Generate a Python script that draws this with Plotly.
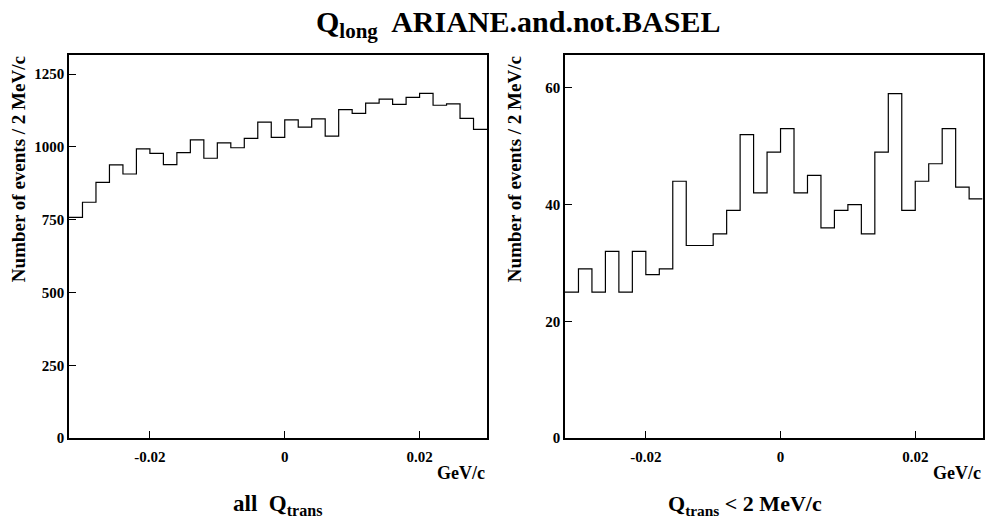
import plotly.graph_objects as go

# ---- data ----
bin_start = -0.032
bin_width = 0.002
counts_all = [758, 810, 878, 938, 907, 993, 978, 939, 980, 1024, 961, 1014, 997, 1029, 1085,
              1033, 1093, 1068, 1096, 1037, 1128, 1115, 1150, 1164, 1146, 1170, 1184, 1143,
              1148, 1098, 1060]
counts_cut = [25, 29, 25, 32, 25, 32, 28, 29, 44, 33, 33, 35, 39, 52, 42, 49, 53, 42, 45, 36,
              39, 40, 35, 49, 59, 39, 44, 47, 53, 43, 41]
x_tick_vals = [-0.02, 0, 0.02]
x_tick_text = ["-0.02", "0", "0.02"]
y_ticks_all = [0, 250, 500, 750, 1000, 1250]
y_ticks_cut = [0, 20, 40, 60]

FONT = "Liberation Serif, Times New Roman, serif"
W, H = 987, 522


def step_xy(counts):
    edges = [bin_start + i * bin_width for i in range(len(counts) + 1)]
    ys = list(counts) + [counts[-1]]
    return edges, ys


fig = go.Figure()
for i, counts in enumerate([counts_all, counts_cut]):
    xs, ys = step_xy(counts)
    fig.add_trace(go.Scatter(x=xs, y=ys, mode="lines", line=dict(shape="hv", color="black", width=1.2),
                             xaxis="x" if i == 0 else "x2", yaxis="y" if i == 0 else "y2",
                             showlegend=False, hoverinfo="skip"))

x_range = [bin_start, bin_start + bin_width * len(counts_all)]
ydom = [1 - 445 / H, 1 - 56 / H]

axis_common = dict(showgrid=False, zeroline=False, showline=True, linecolor="black", linewidth=1.5,
                   mirror=True, ticks="inside", ticklen=7, tickwidth=1, tickcolor="black",
                   tickfont=dict(family=FONT, size=15, color="black", weight="bold"))

fig.update_layout(
    width=W, height=H, margin=dict(l=0, r=0, t=0, b=0),
    paper_bgcolor="white", plot_bgcolor="white",
    font=dict(family=FONT, color="black"),
    xaxis=dict(domain=[69 / W, 487 / W], range=x_range, tickvals=x_tick_vals, ticktext=x_tick_text,
               anchor="y", ticklabelstandoff=4, **axis_common),
    yaxis=dict(domain=ydom, range=[0, 1315], tickvals=y_ticks_all, anchor="x", **axis_common),
    xaxis2=dict(domain=[565 / W, 982.6 / W], range=x_range, tickvals=x_tick_vals, ticktext=x_tick_text,
                anchor="y2", ticklabelstandoff=4, **axis_common),
    yaxis2=dict(domain=ydom, range=[0, 65.6], tickvals=y_ticks_cut, anchor="x2", **axis_common),
)

ann_font = dict(family=FONT, color="black", weight="bold")
annotations = [
    dict(text="Q<sub>long</sub>  ARIANE.and.not.BASEL", x=518 / W, y=1 - 24 / H,
         xanchor="center", yanchor="middle", font=dict(size=30, **ann_font)),
    dict(text="Number of events / 2 MeV/c", textangle=-90, x=18 / W, y=1 - 55 / H,
         xanchor="center", yanchor="top", font=dict(size=19, **ann_font)),
    dict(text="Number of events / 2 MeV/c", textangle=-90, x=514 / W, y=1 - 55 / H,
         xanchor="center", yanchor="top", font=dict(size=19, **ann_font)),
    dict(text="GeV/c", x=487 / W, y=1 - 480 / H, xanchor="right", yanchor="middle",
         font=dict(size=18, **ann_font)),
    dict(text="GeV/c", x=982.6 / W, y=1 - 480 / H, xanchor="right", yanchor="middle",
         font=dict(size=18, **ann_font)),
    dict(text="all  Q<sub>trans</sub>", x=277 / W, y=1 - 513 / H, xanchor="center",
         yanchor="middle", font=dict(size=23, **ann_font)),
    dict(text="Q<sub>trans</sub> < 2 MeV/c", x=745 / W, y=1 - 513 / H, xanchor="center",
         yanchor="middle", font=dict(size=22, **ann_font)),
]
for a in annotations:
    a.update(xref="paper", yref="paper", showarrow=False)
fig.update_layout(annotations=annotations)

fig.write_html("out.html")
